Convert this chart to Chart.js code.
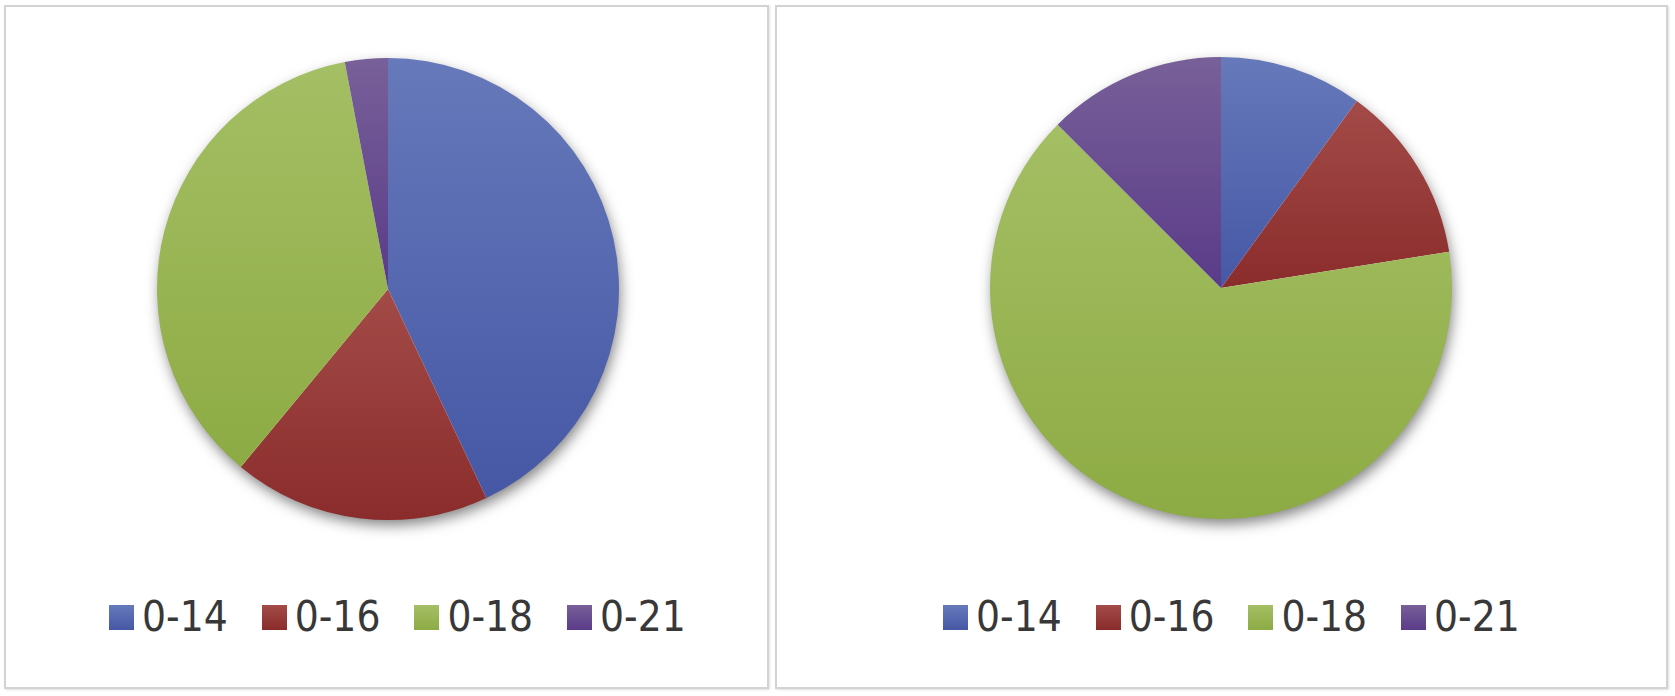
<!DOCTYPE html>
<html>
<head>
<meta charset="utf-8">
<script src="https://cdn.jsdelivr.net/npm/chart.js@4.4.1/dist/chart.umd.min.js"></script>
<style>
  html, body { margin: 0; padding: 0; background: #fff; }
  body { width: 1675px; height: 696px; position: relative; overflow: hidden; }
  .panel {
    position: absolute;
    top: 5px;
    height: 680px;
    border: 2px solid #d3d3d3;
    box-shadow: 1px 1px 2px rgba(0,0,0,0.12);
    background: #fff;
  }
  .pie-wrap { position: absolute; width: 520px; height: 520px; }
  .legend {
    position: absolute;
    top: 598px;
    height: 38px;
    display: flex;
    align-items: center;
    font-family: "Liberation Sans Narrow", "DejaVu Sans Condensed", "Liberation Sans", sans-serif;
    font-size: 42px;
    color: #383838;
  }
  .legend .item { width: 152.7px; display: flex; align-items: center; flex: none; }
  .legend .box { width: 25px; height: 25px; margin-right: 8px; flex: none; }
  .legend .txt { line-height: 38px; white-space: nowrap; }
</style>
</head>
<body>
  <div class="panel" style="left:4px; width:761px;"></div>
  <div class="panel" style="left:775px; width:889px;"></div>

  <div class="pie-wrap" style="left:128px; top:29px;"><canvas id="pieLeft" width="520" height="520"></canvas></div>
  <div class="pie-wrap" style="left:961px; top:28px;"><canvas id="pieRight" width="520" height="520"></canvas></div>

  <div class="legend" id="legendLeft" style="left:109px;"></div>
  <div class="legend" id="legendRight" style="left:943px;"></div>

<script>
// === Data ===
const categories = ['0-14', '0-16', '0-18', '0-21'];
const leftValues = [43, 18, 36, 3];
const rightValues = [10, 12.5, 65, 12.5];

// top / bottom shade of each slice (vertical gradient)
const topColors = ['#6679ba', '#a34b48', '#a4bf64', '#786099'];
const bottomColors = ['#4657a5', '#8a2c2b', '#8dab44', '#5a3b88'];

// gradient spanning the vertical extent of each slice
function sliceFill(ctx) {
  const i = ctx.dataIndex;
  const chart = ctx.chart;
  const area = chart.chartArea;
  if (i === undefined || !area) return topColors[0];
  const vals = chart.data.datasets[0].data;
  const total = vals.reduce((a, b) => a + b, 0);
  let before = 0;
  for (let k = 0; k < i; k++) before += vals[k];
  const a0 = -Math.PI / 2 + before / total * Math.PI * 2;
  const a1 = a0 + vals[i] / total * Math.PI * 2;
  const cx = (area.left + area.right) / 2;
  const cy = (area.top + area.bottom) / 2;
  const r = Math.min(area.width, area.height) / 2;
  const ys = [cy, cy + r * Math.sin(a0), cy + r * Math.sin(a1)];
  // does the slice pass through the bottom (90deg) or top (270deg)?
  const within = (a) => {
    for (let t = a; t < a1 + 7; t += Math.PI * 2) if (t >= a0 && t <= a1) return true;
    return false;
  };
  if (within(Math.PI / 2)) ys.push(cy + r);
  if (within(-Math.PI / 2) || within(Math.PI * 1.5)) ys.push(cy - r);
  const y0 = Math.min(...ys), y1 = Math.max(...ys);
  const g = chart.ctx.createLinearGradient(0, y0, 0, Math.max(y1, y0 + 1));
  g.addColorStop(0, topColors[i]);
  g.addColorStop(1, bottomColors[i]);
  return g;
}

// soft drop shadow under the whole pie
const pieShadow = {
  id: 'pieShadow',
  beforeDatasetsDraw(chart) {
    const arc = chart.getDatasetMeta(0).data[0];
    if (!arc) return;
    const c = chart.ctx;
    c.save();
    c.shadowColor = 'rgba(0,0,0,0.5)';
    c.shadowBlur = 14;
    c.shadowOffsetX = 2;
    c.shadowOffsetY = 6;
    c.fillStyle = '#fff';
    c.beginPath();
    c.arc(arc.x, arc.y, arc.outerRadius - 1, 0, Math.PI * 2);
    c.fill();
    c.restore();
  }
};

function makePie(id, values) {
  return new Chart(document.getElementById(id), {
    type: 'pie',
    data: {
      labels: categories,
      datasets: [{
        data: values,
        backgroundColor: sliceFill,
        borderWidth: 0
      }]
    },
    options: {
      responsive: false,
      animation: false,
      devicePixelRatio: 1,
      layout: { padding: 29 },
      plugins: {
        legend: { display: false },
        tooltip: { enabled: false }
      }
    },
    plugins: [pieShadow]
  });
}

function buildLegend(id) {
  const el = document.getElementById(id);
  el.innerHTML = categories.map((c, i) =>
    `<div class="item"><span class="box" style="background:linear-gradient(${topColors[i]}, ${bottomColors[i]})"></span><span class="txt">${c}</span></div>`
  ).join('');
}

makePie('pieLeft', leftValues);
makePie('pieRight', rightValues);
buildLegend('legendLeft');
buildLegend('legendRight');
</script>
</body>
</html>
